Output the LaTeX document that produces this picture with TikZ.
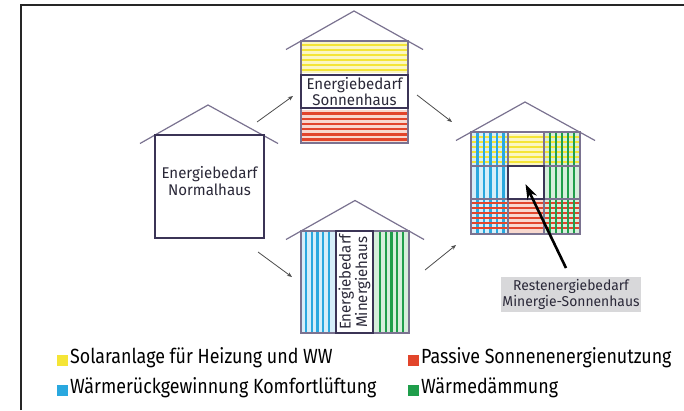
\documentclass[tikz,border=0pt]{standalone}
\usepackage{fontspec}
\setmainfont{Fira Sans}[FakeStretch=0.87]
\newfontfamily\housefont{Fira Sans}[FakeStretch=0.97]
\usetikzlibrary{arrows.meta}
\definecolor{houseline}{HTML}{7A7290}
\definecolor{innerline}{HTML}{3B3456}
\definecolor{solar}{HTML}{F5E536}
\definecolor{solarpale}{HTML}{FBF6C2}
\definecolor{passive}{HTML}{E2452B}
\definecolor{passivepale}{HTML}{F8D8CE}
\definecolor{wrg}{HTML}{2AA8DF}
\definecolor{wrgpale}{HTML}{D6EEF9}
\definecolor{daemm}{HTML}{1F9E4B}
\definecolor{daemmpale}{HTML}{D6EEDC}
\definecolor{labelgray}{HTML}{D8D8DA}
\definecolor{txt}{HTML}{2A2838}
\tikzset{
  roof/.style={draw=houseline, line width=1.2pt},
  wall/.style={draw=houseline, line width=1.1pt, fill=none},
  innerbox/.style={draw=innerline, line width=1.6pt},
  sY/.style={draw=solar, line width=2.4pt},
  sR/.style={draw=passive, line width=2.4pt},
  sB/.style={draw=wrg, line width=2.4pt},
  sG/.style={draw=daemm, line width=2.4pt},
  flow/.style={draw=black!70, line width=0.8pt, -{Stealth[length=5pt,width=4pt]}},
  bigarrow/.style={draw=black, line width=2.6pt, -{Stealth[length=15pt,width=10pt]}},
  housetext/.style={text=txt, font=\housefont\fontsize{15.5}{16.5}\selectfont, align=center, inner sep=0pt},
  legtext/.style={text=black, font=\fontsize{20.5}{22}\selectfont, anchor=west, inner sep=0pt},
  legsq/.style={minimum width=11pt, minimum height=11pt, inner sep=0pt, anchor=west},
}
\begin{document}
\begin{tikzpicture}[x=1pt,y=-1pt]
\useasboundingbox (0,0) rectangle (684,410);
\fill[white] (0,0) rectangle (684,410);
% frame
\draw[black!85, line width=1.3pt] (21,410) -- (21,5) -- (684,5);

% ---------- House 1: Normalhaus ----------
\draw[roof] (140,143.5) -- (208,105) -- (278,143.5);
\node[draw=innerline, line width=1.3pt, fill=white, minimum width=109pt, minimum height=103pt, inner sep=0pt] (h1) at (209.5,186.5) {};
\node[housetext] (t1) at (209.5,181) {Energiebedarf\\Normalhaus};

% ---------- House 2: Sonnenhaus ----------
\draw[roof] (286,49.5) -- (354,11) -- (423,49.5);
\fill[white] (301,41) rectangle (408,143);
\fill[solarpale] (301,42) rectangle (408,73);
\fill[passivepale] (301,110) rectangle (408,142);
\foreach \y in {45,50,55,60,65,70} \draw[sY] (301,\y) -- (408,\y);
\foreach \y in {113.5,118.7,123.9,129.1,134.3,139.5} \draw[sR] (301,\y) -- (408,\y);
\node[wall, minimum width=107pt, minimum height=102pt, inner sep=0pt] (h2) at (354.5,92) {};
\node[innerbox, fill=white, minimum width=107pt, minimum height=33pt, inner sep=0pt] (b2) at (354.5,91.5) {};
\node[housetext] (t2) at (354.5,91.5) {Energiebedarf\\Sonnenhaus};

% ---------- House 3: Minergiehaus ----------
\draw[roof] (286,239.5) -- (355,200.5) -- (424,239.5);
\fill[white] (301,231) rectangle (409,333);
\fill[wrgpale] (302,231) rectangle (335,333);
\fill[daemmpale] (374,231) rectangle (408,333);
\foreach \x in {306,311.7,317.4,323.1,328.8} \draw[sB] (\x,231) -- (\x,333);
\foreach \x in {380,385.7,391.4,397.1,402.8} \draw[sG] (\x,231) -- (\x,333);
\node[wall, minimum width=108pt, minimum height=102pt, inner sep=0pt] (h3) at (355,282) {};
\node[innerbox, fill=white, minimum width=37pt, minimum height=102pt, inner sep=0pt] (b3) at (354.5,282) {};
\node[housetext, rotate=90] (t3) at (354.5,282) {Energiebedarf\\Minergiehaus};

% ---------- House 4: Minergie-Sonnenhaus ----------
\draw[roof] (456,140.5) -- (525,102) -- (595,140.5);
\fill[white] (471,132) rectangle (580,234);
\fill[solarpale] (471,134) rectangle (580,165);
\fill[passivepale] (471,200) rectangle (580,233);
\fill[wrgpale] (471,132) rectangle (508,234);
\fill[daemmpale] (544,132) rectangle (580,234);
\foreach \y in {137,142,147,152,157,162} \draw[sY] (471,\y) -- (580,\y);
\foreach \x in {477.5,484,490.5,497,503.5} \draw[sB] (\x,132) -- (\x,234);
\foreach \y in {203,208,213,218,223,228} \draw[sR] (471,\y) -- (580,\y);
\foreach \x in {550,556,562,568,574} \draw[sG] (\x,132) -- (\x,234);
\draw[houseline, line width=1.1pt] (508,132) -- (508,234) (544,132) -- (544,234)
  (471,166) -- (580,166) (471,199) -- (580,199);
\node[wall, minimum width=109pt, minimum height=102pt, inner sep=0pt] (h4) at (525.5,183) {};
\node[innerbox, fill=white, minimum width=36pt, minimum height=33pt, inner sep=0pt] (b4) at (526,182.5) {};

% label
\node[fill=labelgray, minimum width=140pt, minimum height=35pt, inner sep=0pt, text=txt,
  font=\housefont\fontsize{14.3}{16.5}\selectfont, align=center] (lab) at (571,294.5) {Restenergiebedarf\\Minergie-Sonnenhaus};
\coordinate (a0) at (566,268);
\coordinate (a1) at (525.5,184);
\draw[bigarrow] (a0) -- (a1);

% flow arrows
\coordinate (f1s) at (257,122); \coordinate (f1e) at (293,96);
\coordinate (f2s) at (417,95);  \coordinate (f2e) at (452,122);
\coordinate (f3s) at (258,252); \coordinate (f3e) at (292,277);
\coordinate (f4s) at (425,270); \coordinate (f4e) at (456,245);
\draw[flow] (f1s) -- (f1e);
\draw[flow] (f2s) -- (f2e);
\draw[flow] (f3s) -- (f3e);
\draw[flow] (f4s) -- (f4e);

% legend
\node[legsq, fill=solar] (q1) at (57,360) {};
\node[legtext] (l1) at (70,358) {Solaranlage für Heizung und WW};
\node[legsq, fill=wrg] (q2) at (57,390) {};
\node[legtext] (l2) at (70,388) {Wärmerückgewinnung Komfortlüftung};
\node[legsq, fill=passive] (q3) at (408,360) {};
\node[legtext] (l3) at (421,358) {Passive Sonnenenergienutzung};
\node[legsq, fill=daemm] (q4) at (408,390) {};
\node[legtext] (l4) at (421,388) {Wärmedämmung};
\end{tikzpicture}
\end{document}
